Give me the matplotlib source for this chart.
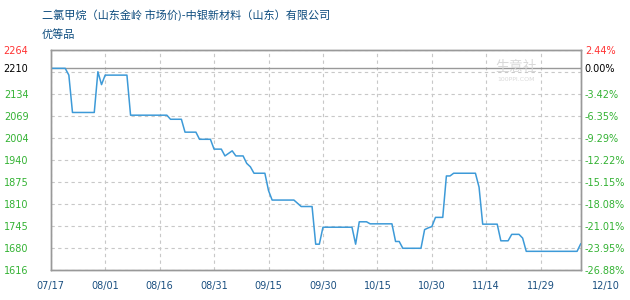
#Price_line_chart

#Importing_Library
import pandas as pd
import matplotlib
matplotlib.use('Agg')
import matplotlib.pyplot as plt
from matplotlib.transforms import ScaledTranslation

plt.rcParams['font.family'] = ['Noto Sans CJK SC', 'DejaVu Sans']

#Data
start = pd.Timestamp('2023-07-17')
days = [0, 4, 5, 6, 12, 13, 14, 15, 21, 22, 32, 33, 36, 37, 40, 41, 44, 45, 47, 48,
        50, 51, 53, 54, 55, 56, 59, 60, 61, 67, 69, 72, 73, 74, 75, 83, 84, 85, 87, 88,
        94, 95, 96, 97, 102, 103, 104, 105, 106, 108, 109, 110, 111, 117, 118, 119,
        123, 124, 126, 127, 129, 130, 131, 145, 146]
prices = [2210, 2210, 2190, 2080, 2080, 2200, 2162, 2190, 2190, 2072, 2072, 2060, 2060, 2022, 2022, 2001, 2001, 1972, 1972, 1952,
          1967, 1952, 1952, 1930, 1920, 1901, 1901, 1850, 1822, 1822, 1803, 1803, 1692, 1692, 1742, 1742, 1692, 1758, 1758, 1752,
          1752, 1700, 1700, 1680, 1680, 1735, 1740, 1744, 1771, 1771, 1893, 1893, 1901, 1901, 1860, 1751,
          1751, 1702, 1702, 1721, 1721, 1710, 1671, 1671, 1693]

x_labels = ['07/17', '08/01', '08/16', '08/31', '09/15', '09/30', '10/15', '10/30', '11/14', '11/29', '12/10']
x_days = [0, 15, 30, 45, 60, 75, 90, 105, 120, 135, 146]

base = 2210
tick_vals = [2264, 2210, 2134.4, 2069.6, 2004.8, 1940, 1875.2, 1810.4, 1745.6, 1680.8, 1616]
grid_vals = [2264, 2199.2, 2134.4, 2069.6, 2004.8, 1940, 1875.2, 1810.4, 1745.6, 1680.8, 1616]
left_labels = ['2264', '2210', '2134', '2069', '2004', '1940', '1875', '1810', '1745', '1680', '1616']
right_labels = ['2.44%', '0.00%', '-3.42%', '-6.35%', '-9.29%', '-12.22%', '-15.15%',
                '-18.08%', '-21.01%', '-23.95%', '-26.88%']
label_colors = ['#ff3333', '#000000'] + ['#33b233'] * 9

title = '二氯甲烷（山东金岭 市场价)-中银新材料（山东）有限公司'
subtitle = '优等品'

dates = start + pd.to_timedelta(days, unit='D')
tick_dates = start + pd.to_timedelta(x_days, unit='D')

#Figure
fig = plt.figure(figsize=(6.3, 3.0), dpi=100)
ax = fig.add_axes([50.7 / 630, 30 / 300, 530 / 630, 220 / 300])

ax.plot(dates, prices, color='#3d9ad8', lw=1.1, zorder=3)
ax.set_xlim(tick_dates[0], tick_dates[-1])
ax.set_ylim(1616, 2264)

#Grid
for v in grid_vals:
    ax.axhline(v, color='#c8c8c8', lw=0.8, ls=(0, (3, 3)), zorder=1)
ax.axhline(base, color='#999999', lw=1.0, zorder=2)
ax.set_xticks(tick_dates)
ax.set_xticklabels(x_labels)
ax.grid(axis='x', color='#c8c8c8', lw=0.8, ls=(0, (3, 3)))
ax.set_axisbelow(True)
ax.tick_params(axis='x', length=0, pad=8, labelsize=7, labelcolor='#1a4f80')
last = ax.get_xticklabels()[-1]
last.set_transform(last.get_transform() + ScaledTranslation(18 / 72, 0, fig.dpi_scale_trans))
for lbl in ax.get_xticklabels():
    lbl.set_family('DejaVu Sans')

#Left_axis
ax.set_yticks(tick_vals)
ax.set_yticklabels(left_labels)
ax.tick_params(axis='y', length=0, pad=16, labelsize=7)
for lbl, c in zip(ax.get_yticklabels(), label_colors):
    lbl.set_color(c)
    lbl.set_family('DejaVu Sans')

#Right_axis
ax2 = ax.twinx()
ax2.set_ylim(1616, 2264)
ax2.set_yticks(tick_vals)
ax2.set_yticklabels(right_labels)
ax2.tick_params(axis='y', length=0, pad=3, labelsize=7)
for lbl, c in zip(ax2.get_yticklabels(), label_colors):
    lbl.set_color(c)
    lbl.set_family('DejaVu Sans')

for a in (ax, ax2):
    for s in a.spines.values():
        s.set_color('#999999')
        s.set_linewidth(1.0)

#Texts
fig.text(41.7 / 630, 1 - 15 / 300, title, fontsize=8, color='#0d4c7e', va='center')
fig.text(41.7 / 630, 1 - 35 / 300, subtitle, fontsize=8, color='#0d4c7e', va='center')
fig.text(516 / 630, 1 - 67 / 300, '生意社', fontsize=10, color='#d9d9d9', ha='center', va='center')
fig.text(516 / 630, 1 - 80 / 300, '100PPI.COM', fontsize=4.5, color='#d9d9d9', ha='center', va='center',
         family='DejaVu Sans')

plt.savefig('out.png', dpi=100)
